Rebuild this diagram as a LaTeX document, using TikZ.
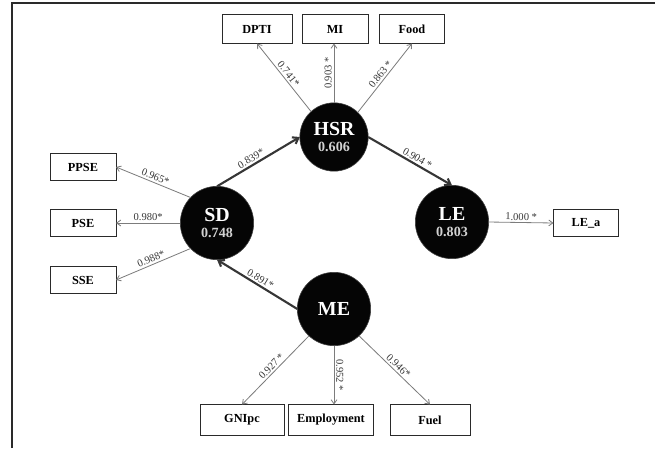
\documentclass[tikz,border=0pt]{standalone}
\usepackage{fontspec}
\setmainfont{Liberation Serif}
\usepackage{xcolor}
\usetikzlibrary{arrows.meta}
\definecolor{vlatent}{HTML}{050505}
\definecolor{vpath}{HTML}{363636}
\definecolor{vload}{HTML}{7c7c7c}
\definecolor{vvalue}{HTML}{d2d2d2}
\definecolor{vframe}{HTML}{2a2a2a}

\begin{document}
\begin{tikzpicture}[x=0.03cm, y=-0.03cm,
		latent/.style={circle, fill=vlatent, draw=black!75, line width=0.5pt, minimum size=2.2cm, inner sep=0pt, outer sep=0pt, align=center, text=white, font=\bfseries},
		indicator/.style={draw=vframe, line width=0.6pt, fill=white, minimum height=0.8cm, inner sep=1pt, outer sep=0pt, font=\bfseries\fontsize{10.5}{12}\selectfont},
		structural/.style={draw=vpath, line width=1.8pt, -{Straight Barb[length=4.5pt,width=6.5pt]}},
		loading/.style={draw=vload, line width=0.7pt, -{Straight Barb[length=3.5pt,width=5pt]}},
		weight/.style={sloped, above, text=vpath, inner sep=1.5pt, font=\fontsize{9}{10}\selectfont}]
		\useasboundingbox (0,0) rectangle (655,448);
		\draw[color=vframe, line width=1.2pt] (12,448) -- (12,3) -- (655,3);
		\node[latent, minimum size=2.05cm] (HSR) at (334,137) {{\fontsize{17}{17}\selectfont HSR}\\[1pt]{\fontsize{12}{12}\selectfont\color{vvalue}0.606}};
		\node[latent] (SD) at (217,223) {{\fontsize{17}{17}\selectfont SD}\\[1pt]{\fontsize{12}{12}\selectfont\color{vvalue}0.748}};
		\node[latent] (LE) at (452,222) {{\fontsize{17}{17}\selectfont LE}\\[1pt]{\fontsize{12}{12}\selectfont\color{vvalue}0.803}};
		\node[latent] (ME) at (334,309) {\fontsize{17}{17}\selectfont ME};
		\node[indicator, minimum width=2.1cm, minimum height=0.87cm] (DPTI) at (257,29) {DPTI};
		\node[indicator, minimum width=1.98cm, minimum height=0.87cm] (MI) at (335,29) {MI};
		\node[indicator, minimum width=1.95cm, minimum height=0.87cm] (Food) at (412,29) {Food};
		\node[indicator, minimum width=1.98cm] (PPSE) at (83,167) {PPSE};
		\node[indicator, minimum width=1.98cm] (PSE) at (83,223) {PSE};
		\node[indicator, minimum width=1.98cm] (SSE) at (83,280) {SSE};
		\node[indicator, minimum width=1.95cm] (LEa) at (586,223) {LE\_a};
		\node[indicator, minimum width=2.52cm, minimum height=0.93cm] (GNIpc) at (242,420) {GNIpc};
		\node[indicator, minimum width=2.55cm, minimum height=0.93cm] (Employment) at (331,420) {Employment};
		\node[indicator, minimum width=2.4cm, minimum height=0.93cm] (Fuel) at (430,420) {Fuel};
		\draw[structural] (SD.north) -- node[weight, pos=0.45] {0.839*} (HSR.west);
		\draw[structural] (HSR.east) -- node[weight, pos=0.55] {0.904 *} (LE.north);
		\draw[structural] (ME.west) -- node[weight] {0.891*} (SD.south);
		\draw[loading] (HSR.132) -- node[weight] {0.741*} (DPTI.south);
		\draw[loading] (HSR.north) -- node[weight] {0.903 *} (HSR.north |- MI.south);
		\draw[loading] (HSR.46) -- node[weight] {0.863 *} (Food.south);
		\draw[loading] (SD.136) -- node[weight] {0.965*} (PPSE.east);
		\draw[loading] (SD.west) -- node[weight] {0.980*} (PSE.east);
		\draw[loading] (SD.224) -- node[weight] {0.988*} (SSE.east);
		\draw[loading] (LE.east) -- node[weight] {1.000 *} (LEa.west);
		\draw[loading] (ME.227) -- node[weight] {0.927 *} (GNIpc.north);
		\draw[loading] (ME.south) -- node[weight] {0.952 *} (ME.south |- Employment.north);
		\draw[loading] (ME.-47) -- node[weight] {0.946*} (Fuel.north);
	\end{tikzpicture}
\end{document}
